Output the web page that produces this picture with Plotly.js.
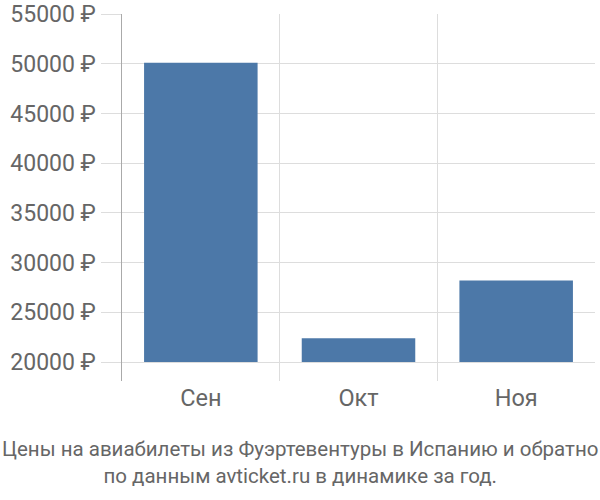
<!DOCTYPE html>
<html><head><meta charset="utf-8">
<script src="https://cdn.plot.ly/plotly-3.0.1.min.js"></script>
<style>body{margin:0}#c{width:600px;height:500px}</style>
</head><body><div id="c"></div>
<script>
const months = ["Сен", "Окт", "Ноя"];
const prices = [50100, 22400, 28200];
const baseValue = 20000;
const tickVals = [20000, 25000, 30000, 35000, 40000, 45000, 50000, 55000];

const trace = {
  type: "bar",
  x: months,
  y: prices.map(v => v - baseValue),
  base: baseValue,
  marker: {color: "#4c78a8"},
  width: 0.72,
  hoverinfo: "skip"
};
const layout = {
  width: 600, height: 500,
  margin: {l: 122, r: 5, t: 14, b: 119},
  paper_bgcolor: "#fff", plot_bgcolor: "#fff",
  font: {family: "Roboto, sans-serif", color: "#666"},
  showlegend: false,
  xaxis: {
    type: "category",
    tickson: "boundaries",
    showgrid: true, gridcolor: "#ddd", gridwidth: 1,
    ticks: "", showline: false, zeroline: false,
    tickfont: {size: 23.5, color: "#666"}
  },
  yaxis: {
    range: [18100, 55000],
    tickvals: tickVals,
    ticktext: tickVals.map(v => v + " ₽"),
    showgrid: true, gridcolor: "#ddd", gridwidth: 1,
    ticks: "outside", ticklen: 20, tickcolor: "#ddd",
    showline: true, linecolor: "#aaa", linewidth: 1.5,
    zeroline: false,
    tickfont: {size: 23, color: "#666"}
  },
  annotations: [{
    xref: "paper", yref: "paper", x: (300 - 122) / 473, xanchor: "center",
    y: 0, yshift: -54, yanchor: "top",
    text: "Цены на авиабилеты из Фуэртевентуры в Испанию и обратно<br>по данным avticket.ru в динамике за год.",
    showarrow: false, font: {family: "Roboto, sans-serif", size: 20.5, color: "#666"}
  }]
};
Plotly.newPlot("c", [trace], layout, {staticPlot: true});
</script></body></html>
